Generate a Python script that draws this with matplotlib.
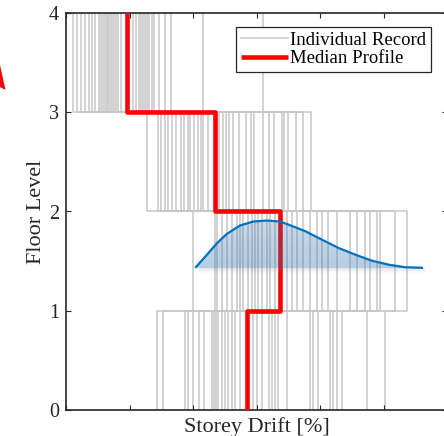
import numpy as np
import matplotlib
matplotlib.use("Agg")
import matplotlib.pyplot as plt
from matplotlib.patches import Polygon

# Storey drift [%] of each record, one list per storey (record i = index i)
drift_s1 = [1.438, 1.523, 1.874, 1.926, 2.005, 2.099, 2.173, 2.294, 2.331, 2.362,
            2.398, 2.452, 2.504, 2.556, 2.609, 2.661, 2.740, 2.950, 3.003, 3.082,
            3.202, 3.239, 3.291, 3.343, 3.476, 3.843, 3.895, 3.973, 4.157, 4.209,
            4.263, 4.342, 4.735, 5.024]
drift_s2 = [2.005, 2.346, 2.383, 2.452, 2.540, 2.609, 2.693, 2.740, 2.792, 2.871,
            2.924, 2.976, 3.028, 3.082, 3.161, 3.213, 3.291, 3.476, 3.554, 3.633,
            3.737, 3.843, 3.948, 4.027, 4.131, 4.263, 4.477, 4.583, 4.709, 4.787,
            4.893, 4.945, 5.181, 5.370]
drift_s3 = [1.271, 1.444, 1.496, 1.559, 1.602, 1.669, 1.732, 1.811, 1.863, 1.917,
            1.953, 2.020, 2.074, 2.126, 2.162, 2.231, 2.414, 2.468, 2.520, 2.572,
            2.635, 2.729, 2.835, 2.913, 2.965, 3.098, 3.202, 3.280, 3.402, 3.438,
            3.491, 3.622, 3.728, 3.858]
drift_s4 = [0.115, 0.173, 0.236, 0.299, 0.357, 0.402, 0.461, 0.515, 0.551, 0.587,
            0.619, 0.641, 0.666, 0.693, 0.724, 0.751, 0.787, 0.824, 0.866, 1.050,
            1.102, 1.145, 1.181, 1.217, 1.249, 1.276, 1.312, 1.354, 1.381, 1.469,
            1.559, 1.654, 2.153, 3.098]

# median drift per storey (1..4)
median_drift = [2.85, 3.37, 2.35, 0.96]

# fitted distribution of storey-2 drift, drawn above floor level 2
pdf_x = [2.047, 2.216, 2.373, 2.531, 2.740, 2.950, 3.161, 3.370, 3.507, 3.769,
         4.031, 4.294, 4.556, 4.819, 5.082, 5.343, 5.606]
pdf_y = [1.441, 1.562, 1.678, 1.773, 1.859, 1.899, 1.909, 1.899, 1.867, 1.801,
         1.716, 1.632, 1.565, 1.504, 1.464, 1.438, 1.433]
pdf_base = 1.43

floors = [0, 1, 2, 3, 4]

plt.rcParams['font.family'] = ['Liberation Serif', 'DejaVu Serif']

W, H = 444, 436
fig = plt.figure(figsize=(W / 100, H / 100), dpi=100)
ax = fig.add_axes([66 / W, 1 - 410 / H, (447 - 66) / W, (410 - 13) / H])

# step profile y coordinates: 0,1,1,2,2,3,3,4
y_step = np.repeat(floors, 2)[1:-1]

records = np.array([drift_s1, drift_s2, drift_s3, drift_s4]).T
for i, rec in enumerate(records):
    ax.plot(np.repeat(rec, 2), y_step, color='#c6c6c6', lw=1.1,
            label='Individual Record' if i == 0 else None, zorder=1)

ax.plot(np.repeat(median_drift, 2), y_step, color='#ff0000', lw=3.3,
        label='Median Profile', zorder=3, clip_on=False, solid_capstyle='butt')

# filled distribution with a light vertical gradient
px = np.array(pdf_x)
py = np.array(pdf_y)
verts = np.column_stack([np.r_[px, px[-1], px[0]], np.r_[py, pdf_base, pdf_base]])
poly = Polygon(verts, closed=True, facecolor='none', edgecolor='none')
ax.add_patch(poly)
grad = np.linspace(0, 1, 64).reshape(-1, 1)
rgba = np.zeros((64, 1, 4))
rgba[..., 0] = 0.20
rgba[..., 1] = 0.45
rgba[..., 2] = 0.68
rgba[..., 3] = 0.36 - 0.10 * grad
img = ax.imshow(rgba, extent=(px.min(), px.max(), pdf_base, py.max()),
                origin='lower', aspect='auto', zorder=4, interpolation='bilinear')
img.set_clip_path(poly)

# soft shadow under the fill
shadow = np.zeros((16, 1, 4))
shadow[..., :3] = 0.55
shadow[..., 3] = np.linspace(0.0, 0.2, 16).reshape(-1, 1)
ax.imshow(shadow, extent=(px.min() + 0.05, px.max() + 0.05, pdf_base - 0.06, pdf_base),
          origin='lower', aspect='auto', zorder=4, interpolation='bilinear')

ax.plot(px, py, color='#0072bd', lw=1.6, zorder=5)

ax.set_xlim(0, 6)
ax.set_ylim(0, 4)
ax.set_xticks(range(0, 7))
ax.set_xticklabels([])
ax.set_yticks(floors)
ax.tick_params(direction='in', length=3.5, width=0.8, top=True, right=True,
               labelsize=14.5, pad=5, colors='#262626')
for s in ax.spines.values():
    s.set_linewidth(1.2)
    s.set_color('#262626')

ax.set_xlabel('Storey Drift [%]', fontsize=16, labelpad=0, color='#262626')
ax.set_ylabel('Floor Level', fontsize=16, labelpad=2, color='#262626')

leg = ax.legend(loc='upper left', bbox_to_anchor=(236 / W, 1 - 27 / H),
                bbox_transform=fig.transFigure, borderaxespad=0,
                fancybox=False, framealpha=1, edgecolor='#262626',
                fontsize=13.5, handlelength=2.5, labelspacing=0.08,
                borderpad=0.25, handletextpad=0.15)
leg.get_frame().set_linewidth(0.9)
leg.set_zorder(10)

# red arrow tip cut by the left edge
fig.patches.append(Polygon([(0 / W, 1 - 65 / H), (5.5 / W, 1 - 90 / H), (0 / W, 1 - 87 / H)],
                           closed=True, transform=fig.transFigure,
                           facecolor='#ff0000', edgecolor='none'))

fig.savefig('out.png', dpi=100)
